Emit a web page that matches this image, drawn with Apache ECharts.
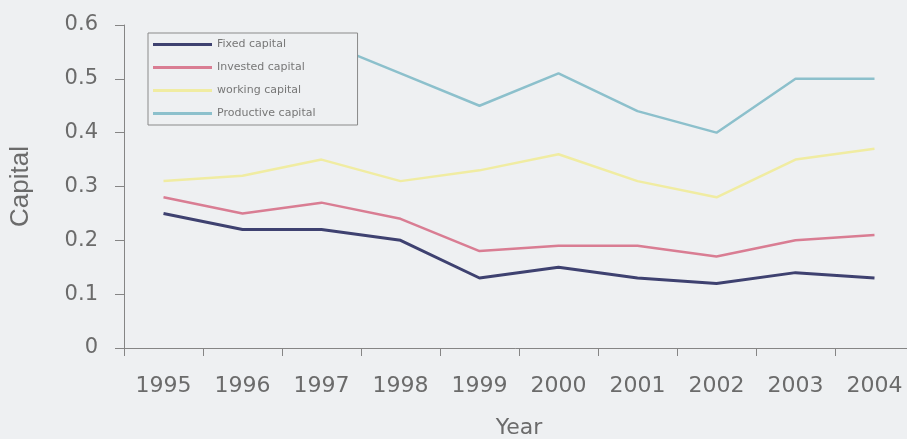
<!DOCTYPE html>
<html>
<head>
<meta charset="utf-8">
<script src="https://cdn.jsdelivr.net/npm/echarts@6/dist/echarts.min.js"></script>
<style>
html,body{margin:0;padding:0;background:#eef0f2;}
#c{width:907px;height:439px;}
</style>
</head>
<body>
<div id="c"></div>
<script>
var years = ['1995','1996','1997','1998','1999','2000','2001','2002','2003','2004'];
var fixedCapital = [0.25, 0.22, 0.22, 0.20, 0.13, 0.15, 0.13, 0.12, 0.14, 0.13];
var investedCapital = [0.28, 0.25, 0.27, 0.24, 0.18, 0.19, 0.19, 0.17, 0.20, 0.21];
var workingCapital = [0.31, 0.32, 0.35, 0.31, 0.33, 0.36, 0.31, 0.28, 0.35, 0.37];
var productiveCapital = [0.52, 0.55, 0.57, 0.51, 0.45, 0.51, 0.44, 0.40, 0.50, 0.50];
var yTicks = [0, 0.1, 0.2, 0.3, 0.4, 0.5, 0.6];

var axisGray = '#858585';
var textGray = '#6b6b6b';
var font = 'DejaVu Sans, Liberation Sans, Arial';

var chart = echarts.init(document.getElementById('c'));
function mk(name, data, color, width) {
  return {
    name: name, type: 'line', data: data, symbol: 'none', showSymbol: false,
    lineStyle: {color: color, width: width}, itemStyle: {color: color},
    emphasis: {disabled: true}, animation: false
  };
}
var colors = ['#3e4170', '#d97d93', '#f0eca2', '#8cc0cc'];
var names = ['Fixed capital', 'Invested capital', 'working capital', 'Productive capital'];
chart.setOption({
  backgroundColor: '#eef0f2',
  animation: false,
  grid: {left: 124, top: 25, width: 790, height: 323, containLabel: false, outerBoundsMode: 'none'},
  legend: {
    orient: 'vertical', left: 148, top: 33,
    padding: [5, 42, 5, 5],
    itemWidth: 59, itemHeight: 3, itemGap: 10,
    icon: 'rect',
    backgroundColor: '#eef0f2',
    borderColor: '#8a8a8a', borderWidth: 1,
    textStyle: {fontFamily: font, fontSize: 11, lineHeight: 13, color: '#777'},
    data: names.map(function (n, i) { return {name: n, icon: 'rect', itemStyle: {color: colors[i]}}; })
  },
  xAxis: {
    type: 'category', data: years, boundaryGap: true,
    name: 'Year', nameLocation: 'middle', nameGap: 69,
    nameTextStyle: {fontFamily: font, fontSize: 22, color: textGray},
    axisLine: {lineStyle: {color: axisGray, width: 1}},
    axisTick: {show: true, alignWithLabel: false, length: 8, lineStyle: {color: axisGray}},
    axisLabel: {margin: 27, fontFamily: font, fontSize: 22, color: textGray, interval: 0}
  },
  yAxis: {
    type: 'value', min: 0, max: 0.6, interval: 0.1,
    name: 'Capital', nameLocation: 'middle', nameGap: 90, nameRotate: 90,
    nameTextStyle: {fontFamily: 'Liberation Sans, Arial', fontSize: 26, color: textGray},
    axisLine: {show: true, lineStyle: {color: axisGray, width: 1}},
    axisTick: {show: true, length: 9, lineStyle: {color: axisGray}},
    splitLine: {show: false},
    axisLabel: {margin: 26, fontFamily: font, fontSize: 21, color: textGray,
      formatter: function (v) { return yTicks.indexOf(+v.toFixed(1)) >= 0 ? (v === 0 ? '0' : v.toFixed(1)) : ''; }}
  },
  series: [
    mk(names[0], fixedCapital, colors[0], 3),
    mk(names[1], investedCapital, colors[1], 2.5),
    mk(names[2], workingCapital, colors[2], 2.5),
    mk(names[3], productiveCapital, colors[3], 2.5)
  ]
});
</script>
</body>
</html>
